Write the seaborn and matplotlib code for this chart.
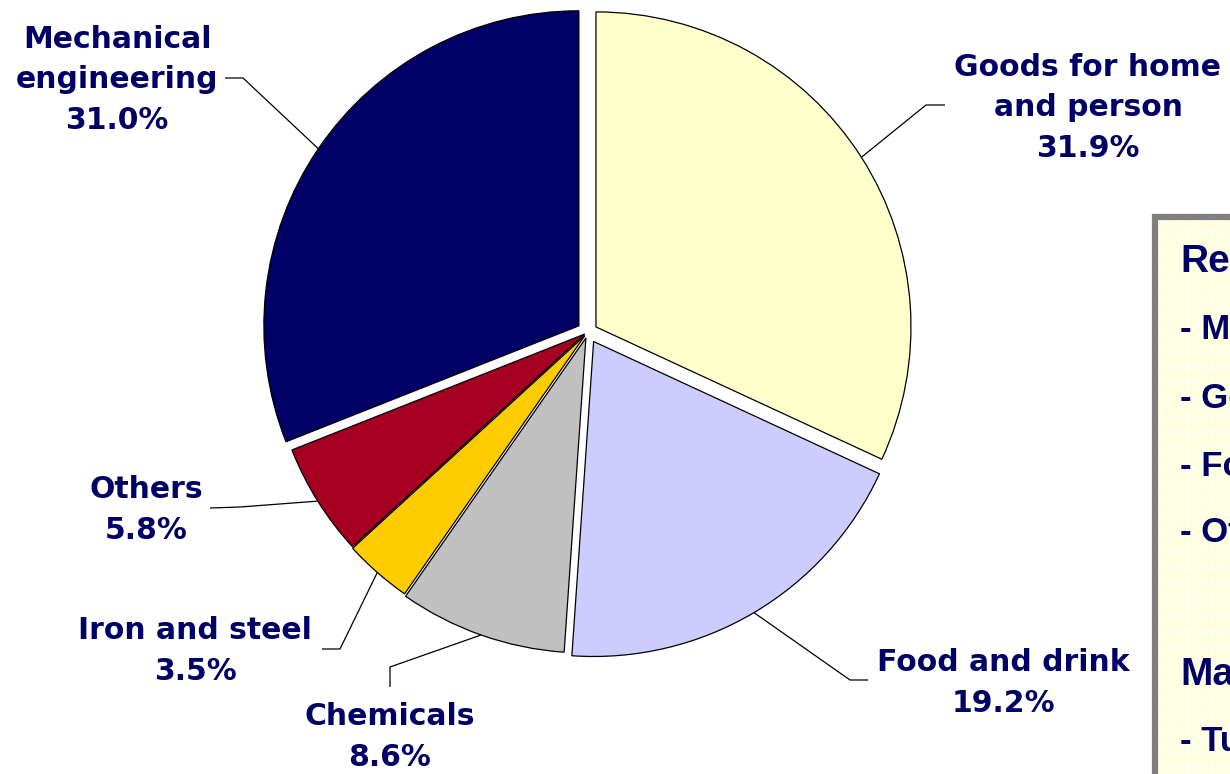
import numpy as np
import matplotlib.pyplot as plt
import matplotlib.patches as mpatches
import seaborn as sns

# %%
# data
sectors = ['Goods for home\nand person', 'Food and drink', 'Chemicals',
           'Iron and steel', 'Others', 'Mechanical\nengineering']
shares = [31.9, 19.2, 8.6, 3.5, 5.8, 31.0]
colors = ['#FFFFCC', '#CCCCFF', '#C0C0C0', '#FFCC00', '#A50021', '#000066']
explode = [0.03, 0.035, 0.02, 0.015, 0.012, 0.035]

box_lines = ['Reasons', '- Machinery', '- Goods', '- Food', '- Others',
             '', 'Markets', '- Turkey']

# label layout in picture pixels: text centre, elbow, line end
label_pos = [(1088, 108), (1003, 683), (390, 737), (195, 651), (146, 510), (117, 80)]
elbow_pos = [(926, 105), (850, 680), (390, 667), (340, 649), (240, 507), (243, 78)]
end_pos = [(945, 105), (868, 680), (390, 687), (322, 649), (210, 508), (225, 78)]

# %%
sns.set_theme(style='white')
plt.rcParams['font.family'] = ['DejaVu Sans']
plt.rcParams['hatch.linewidth'] = 0.3

W, H = 1230, 774
fig = plt.figure(figsize=(W / 100, H / 100), dpi=100)
ax = fig.add_axes([0, 0, 1, 1])


def fy(y):
    return H - y


cx, cy, r = 588, fy(332), 315
# explode in matplotlib is in data units, so scale it by the radius
wedges, _ = ax.pie(shares, colors=colors, explode=[e * r for e in explode],
                   startangle=90, counterclock=False, center=(cx, cy), radius=r,
                   wedgeprops=dict(edgecolor='black', linewidth=0.9))
ax.set_xlim(0, W)
ax.set_ylim(0, H)
ax.set_aspect('equal')
ax.axis('off')

navy = '#000066'
for w, ex, name, val, lp, el, en in zip(wedges, explode, sectors, shares,
                                        label_pos, elbow_pos, end_pos):
    ang = np.deg2rad((w.theta1 + w.theta2) / 2)
    px = cx + (r + ex * r) * np.cos(ang)
    py = cy + (r + ex * r) * np.sin(ang)
    ax.plot([px, el[0], en[0]], [py, fy(el[1]), fy(en[1])],
            color='black', lw=0.9, solid_capstyle='butt')
    ax.text(lp[0], fy(lp[1]), '%s\n%.1f%%' % (name, val), ha='center',
            va='center', fontsize=21.5, fontweight='bold', color=navy,
            linespacing=1.5)

# text box on the right, cut off by the picture edge
box = mpatches.Rectangle((1155, fy(900)), 300, 900 - 217, facecolor='#FFFFE6',
                         edgecolor='#808080', linewidth=4.5, zorder=3)
ax.add_patch(box)
grid = mpatches.Rectangle((1158, fy(900)), 300, 900 - 220, facecolor='none',
                          edgecolor='#FFFAC0', hatch='+', linewidth=0, zorder=3)
ax.add_patch(grid)

box_y = [262, 330, 398, 466, 532, 600, 675, 742]
for txt, y in zip(box_lines, box_y):
    big = not txt.startswith('-')
    ax.text(1180, fy(y), txt, ha='left', va='center',
            fontsize=28 if big else 25, fontweight='bold', color=navy,
            family=['Liberation Sans', 'DejaVu Sans'], zorder=4)

fig.savefig('out.png', dpi=100)
